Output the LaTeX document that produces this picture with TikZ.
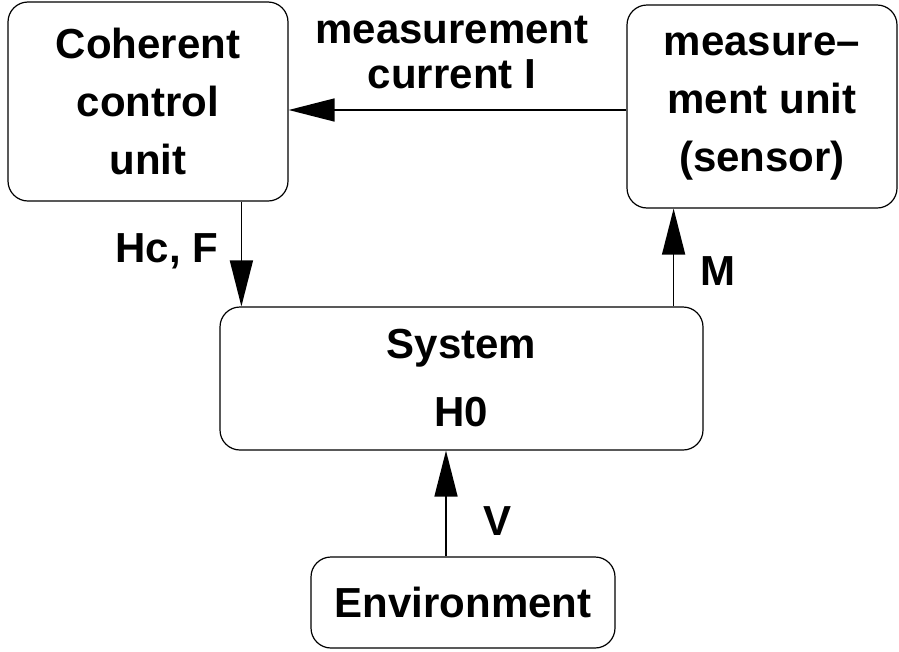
\documentclass[tikz,border=0pt]{standalone}
\usepackage{fontspec}
\setmainfont{Liberation Sans}
\usetikzlibrary{arrows.meta}
\tikzset{
  blk/.style={draw, rounded corners=20pt, line width=1.2pt, align=center,
    inner sep=0pt, font=\bfseries\fontsize{42}{58}\selectfont},
  lbl/.style={align=center, inner sep=0pt, font=\bfseries\fontsize{42}{45}\selectfont},
  arr/.style={line width=1.6pt, -{Triangle[length=46pt,width=23pt]}}
}
\begin{document}
\begin{tikzpicture}[x=1pt,y=-1pt]
		\useasboundingbox (0,0) rectangle (899,651);
		% boxes
		\node[blk, minimum width=280pt, minimum height=199pt] (ccu) at (148,101.5) {Coherent\\control\\unit};
		\node[blk, minimum width=270pt, minimum height=203pt] (sensor) at (762,106.5) {measure--\\ment unit\\(sensor)};
		\node[blk, minimum width=483pt, minimum height=143pt] (sys) at (461.5,378.5) {System\\[10pt]H0};
		\node[blk, minimum width=304pt, minimum height=91pt] (env) at (463,602.5) {Environment};
		% arrows
		\coordinate (ii) at ([yshift=-3.5pt]sensor.west);
		\draw[arr] (ii) -- (ii -| ccu.east);
		\coordinate (hc) at ([xshift=22pt]sys.north west);
		\draw[arr] (hc |- ccu.south) -- (hc);
		\coordinate (mm) at ([xshift=-30pt]sys.north east);
		\draw[arr] (mm) -- (mm |- sensor.south);
		\coordinate (vv) at ([xshift=-17pt]env.north);
		\draw[arr] (vv) -- (vv |- sys.south);
		% labels
		\node[lbl, anchor=base] (meas) at (452,88) {measurement\\current I};
		\node[lbl, anchor=base] (hcf) at (167,262) {Hc, F};
		\node[lbl, anchor=base] (mlab) at (718,285) {M};
		\node[lbl, anchor=base] (vlab) at (498,535) {V};
\end{tikzpicture}
\end{document}
